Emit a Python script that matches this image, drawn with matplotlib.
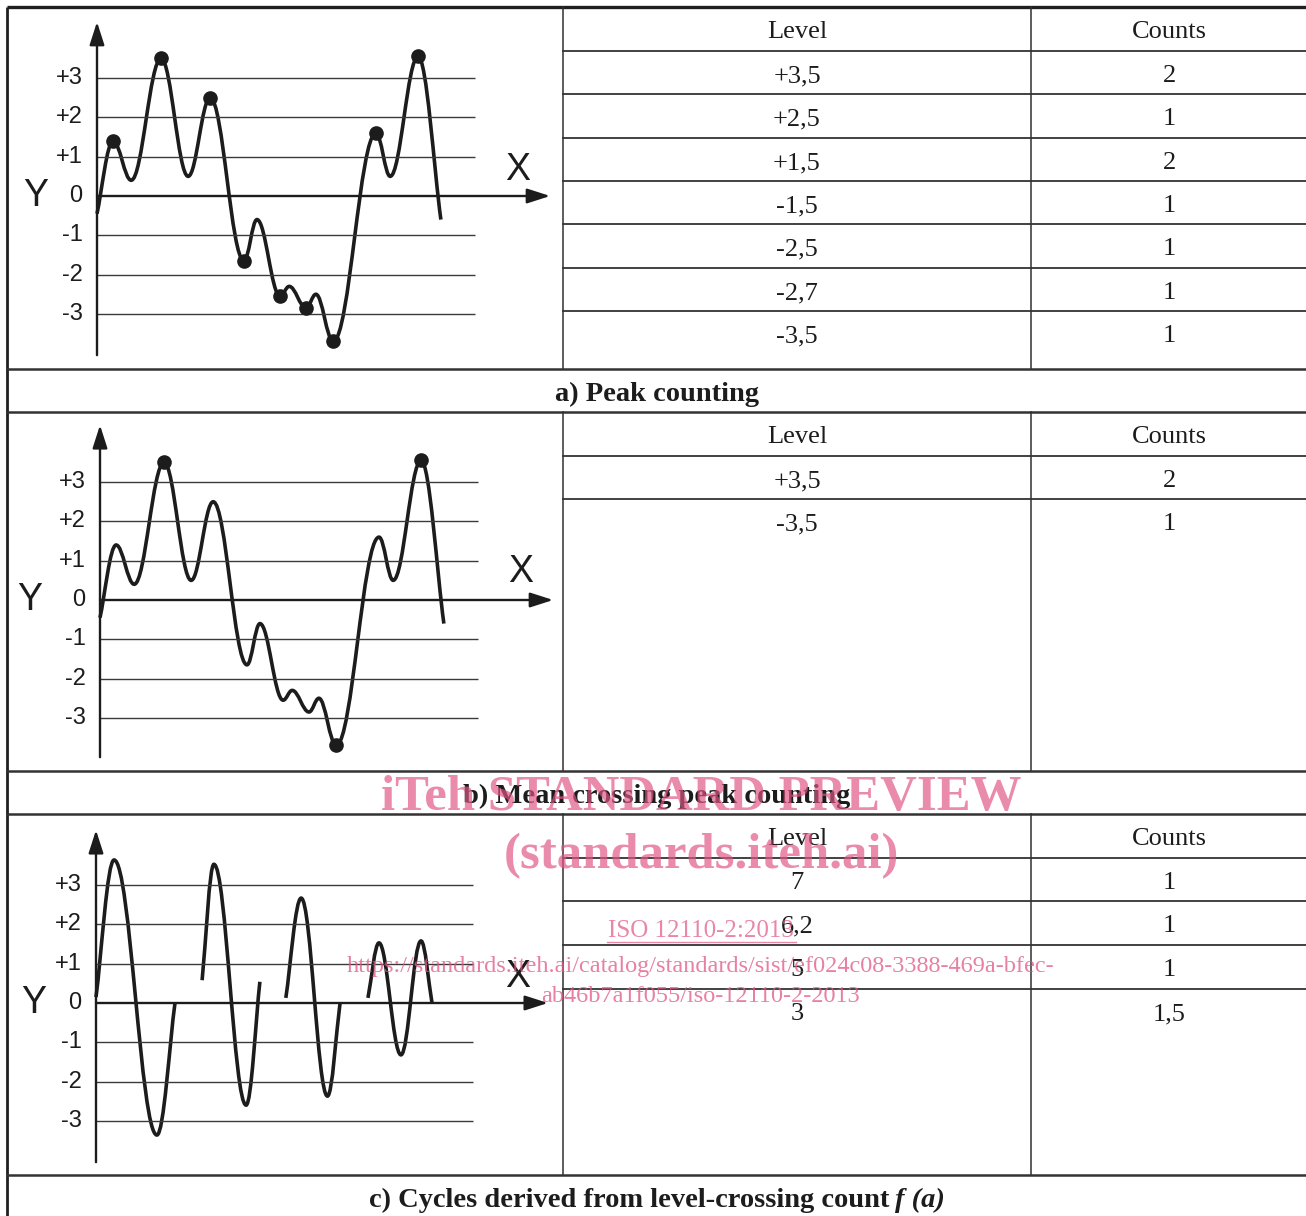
import matplotlib
matplotlib.use("Agg")
import matplotlib.pyplot as plt
from matplotlib.path import Path
from matplotlib.patches import PathPatch

W, H = 1306, 1216
U = 39.3  # pixels per level unit in the sketches

# signal of panels a) and b): turning points (time, level)
sig_t = [0.0, 0.41, 0.87, 1.63, 2.32, 2.88, 3.74, 4.07, 4.66, 4.89, 5.32, 5.57, 6.01, 7.10, 7.46, 8.17, 8.75]
sig_v = [-0.45, 1.4, 0.4, 3.5, 0.5, 2.5, -1.65, -0.6, -2.55, -2.3, -2.85, -2.5, -3.7, 1.6, 0.5, 3.55, -0.6]
dots_a = [1, 3, 5, 6, 8, 10, 12, 13, 15]   # counted peaks
dots_b = [3, 12, 15]                       # peaks between mean crossings

# panel c): cycles derived from level crossings
cyc1_t = [0.0, 0.46, 1.55, 2.01]
cyc1_v = [0.15, 3.64, -3.36, 0.0]
cyc2_t = [2.70, 3.00, 3.82, 4.17]
cyc2_v = [0.58, 3.53, -2.6, 0.54]
cyc3_t = [4.83, 5.22, 5.89, 6.21]
cyc3_v = [0.13, 2.67, -2.37, 0.0]
cyc4_t = [6.92, 7.20, 7.76, 8.27, 8.55]
cyc4_v = [0.13, 1.53, -1.32, 1.58, 0.0]

grid_levels = [-3, -2, -1, 0, 1, 2, 3]
grid_labels = ['-3', '-2', '-1', '0', '+1', '+2', '+3']

levels_a = ['+3,5', '+2,5', '+1,5', '-1,5', '-2,5', '-2,7', '-3,5']
counts_a = [2, 1, 2, 1, 1, 1, 1]
levels_b = ['+3,5', '-3,5']
counts_b = [2, 1]
levels_c = ['7', '6,2', '5', '3']
counts_c = [1, 1, 1, 1.5]

captions = ['a) Peak counting', 'b) Mean crossing peak counting',
            'c) Cycles derived from level-crossing count']

INK = '#1c1c1c'
SERIF = 'Liberation Serif'
SANS = 'Liberation Sans'


def wave(t, v, k=0.38):
    verts = [(t[0], v[0])]
    codes = [Path.MOVETO]
    last = len(t) - 2
    for i in range(len(t) - 1):
        dx = t[i + 1] - t[i]
        dv = v[i + 1] - v[i]
        c1 = (t[i] + 0.3 * dx, v[i] + 0.3 * dv) if i == 0 else (t[i] + k * dx, v[i])
        c2 = (t[i + 1] - 0.3 * dx, v[i + 1] - 0.3 * dv) if i == last else (t[i + 1] - k * dx, v[i + 1])
        verts += [c1, c2, (t[i + 1], v[i + 1])]
        codes += [Path.CURVE4] * 3
    return Path(verts, codes)


def sketch_axes(x0, y0):
    tmin, tmax, vmin, vmax = -2.2, 12.3, -4.6, 4.8
    left, right = x0 + tmin * U, x0 + tmax * U
    top, bottom = y0 - vmax * U, y0 - vmin * U
    ax = fig.add_axes([left / W, 1 - bottom / H, (right - left) / W, (bottom - top) / H])
    ax.set_xlim(tmin, tmax)
    ax.set_ylim(vmin, vmax)
    ax.axis('off')
    ax.patch.set_alpha(0)
    ax.set_zorder(2)
    return ax


def sketch_frame(ax, grid_end, x_end, y_lo, y_hi, xlab, ylab):
    ax.hlines([g for g in grid_levels if g != 0], 0, grid_end, color='#3a3a3a', lw=1.0)
    arrow = dict(arrowstyle='-|>,head_length=1.4,head_width=0.45', lw=1.7,
                 color=INK, shrinkA=0, shrinkB=0)
    ax.annotate('', xy=(x_end, 0), xytext=(0, 0), arrowprops=arrow)
    ax.annotate('', xy=(0, y_hi), xytext=(0, y_lo), arrowprops=arrow)
    for g, lb in zip(grid_levels, grid_labels):
        ax.text(-0.37, g, lb, ha='right', va='center', fontsize=17, family=SANS, color=INK)
    ax.text(xlab[0], xlab[1], 'X', ha='center', va='center', fontsize=27, family=SANS, color=INK)
    ax.text(ylab[0], ylab[1], 'Y', ha='center', va='center', fontsize=27, family=SANS, color=INK)


def draw_wave(ax, t, v):
    ax.add_patch(PathPatch(wave(t, v), fill=False, lw=2.6, ec=INK,
                           capstyle='butt', joinstyle='round'))


fig = plt.figure(figsize=(W / 100, H / 100), dpi=100)
fig.patch.set_facecolor('white')

# ---- table grid (pixel coordinates) ----
bg = fig.add_axes([0, 0, 1, 1])
bg.set_xlim(0, W)
bg.set_ylim(H, 0)
bg.axis('off')
bg.set_zorder(1)

panels = [
    (7, [51, 94, 138, 181, 224, 268, 311], 369, levels_a, counts_a),
    (412, [456, 499], 771, levels_b, counts_b),
    (814, [858, 901, 945, 989], 1175, levels_c, counts_c),
]
bg.plot([7, W], [7, 7], color='#202020', lw=2.4, solid_capstyle='butt')
bg.plot([7, 7], [7, H], color='#202020', lw=2.0, solid_capstyle='butt')
for top, lines, bottom, lev, cnt in panels:
    for xv in (563, 1031):
        bg.plot([xv, xv], [top, bottom], color='#303030', lw=1.1)
    for yl in lines:
        bg.plot([563, W], [yl, yl], color='#333333', lw=1.3)
    bg.plot([7, W], [bottom, bottom], color='#333333', lw=1.8)
    if bottom + 43 < H:
        bg.plot([7, W], [bottom + 43, bottom + 43], color='#333333', lw=1.8)
    tops = [top] + lines
    bg.text(797, tops[0] + 25, 'Level', ha='center', va='center', fontsize=19, family=SERIF, color=INK)
    bg.text(1169, tops[0] + 25, 'Counts', ha='center', va='center', fontsize=19, family=SERIF, color=INK)
    for rt, lv, c in zip(tops[1:] + [lines[-1] + 44], lev, cnt):
        bg.text(797, rt + 25, lv, ha='center', va='center', fontsize=19, family=SERIF, color=INK)
        bg.text(1169, rt + 25, f'{c:g}'.replace('.', ','), ha='center', va='center',
                fontsize=19, family=SERIF, color=INK)

cap_y = [394, 796, 1200]
for cy, cap in zip(cap_y[:2], captions[:2]):
    bg.text(657, cy, cap, ha='center', va='center', fontsize=20.5, fontweight='bold',
            family=SERIF, color=INK)
cap_c = bg.text(0, cap_y[2], captions[2], ha='left', va='center', fontsize=20.5,
                fontweight='bold', family=SERIF, color=INK)
cap_f = bg.text(0, cap_y[2], 'f (a)', ha='left', va='center', fontsize=20.5,
                fontweight='bold', fontstyle='italic', family=SERIF, color=INK)
fig.canvas.draw()
rend = fig.canvas.get_renderer()
w1 = cap_c.get_window_extent(rend).width
w2 = cap_f.get_window_extent(rend).width
gap = 6
x_start = 657 - (w1 + gap + w2) / 2
cap_c.set_x(x_start)
cap_f.set_x(x_start + w1 + gap)

# ---- sketches ----
ax_a = sketch_axes(97, 196)
sketch_frame(ax_a, 9.62, 11.53, -4.05, 4.43, (10.71, 0.67), (-1.55, 0.0))
draw_wave(ax_a, sig_t, sig_v)
ax_a.plot([sig_t[i] for i in dots_a], [sig_v[i] for i in dots_a], 'o', ms=9.5, color=INK)

ax_b = sketch_axes(100, 600)
sketch_frame(ax_b, 9.62, 11.53, -4.0, 4.45, (10.71, 0.72), (-1.78, 0.0))
draw_wave(ax_b, sig_t, sig_v)
ax_b.plot([sig_t[i] for i in dots_b], [sig_v[i] for i in dots_b], 'o', ms=9.5, color=INK)

ax_c = sketch_axes(96, 1003)
sketch_frame(ax_c, 9.59, 11.5, -4.05, 4.4, (10.74, 0.67), (-1.58, 0.0))
for t, v in [(cyc1_t, cyc1_v), (cyc2_t, cyc2_v), (cyc3_t, cyc3_v), (cyc4_t, cyc4_v)]:
    draw_wave(ax_c, t, v)

# ---- watermark overlay ----
wm = fig.add_axes([0, 0, 1, 1])
wm.set_xlim(0, W)
wm.set_ylim(H, 0)
wm.axis('off')
wm.patch.set_alpha(0)
wm.set_zorder(5)
PINK = '#e05585'
wm.text(701, 810, 'iTeh STANDARD PREVIEW', ha='center', va='baseline', fontsize=36.5,
        fontweight='bold', family=SERIF, color=PINK, alpha=0.68)
wm.text(701, 868, '(standards.iteh.ai)', ha='center', va='baseline', fontsize=36.5,
        fontweight='bold', family=SERIF, color=PINK, alpha=0.68)
wm.text(701, 937, 'ISO 12110-2:2013', ha='center', va='baseline', fontsize=18,
        family=SERIF, color=PINK, alpha=0.7)
wm.plot([607, 796], [942, 942], color=PINK, alpha=0.7, lw=1.0)
wm.text(701, 972, 'https://standards.iteh.ai/catalog/standards/sist/ef024c08-3388-469a-bfec-',
        ha='center', va='baseline', fontsize=17.5, family=SERIF, color=PINK, alpha=0.75)
wm.text(701, 1002, 'ab46b7a1f055/iso-12110-2-2013', ha='center', va='baseline', fontsize=17.5,
        family=SERIF, color=PINK, alpha=0.75)

fig.savefig('out.png', dpi=100, facecolor='white')
